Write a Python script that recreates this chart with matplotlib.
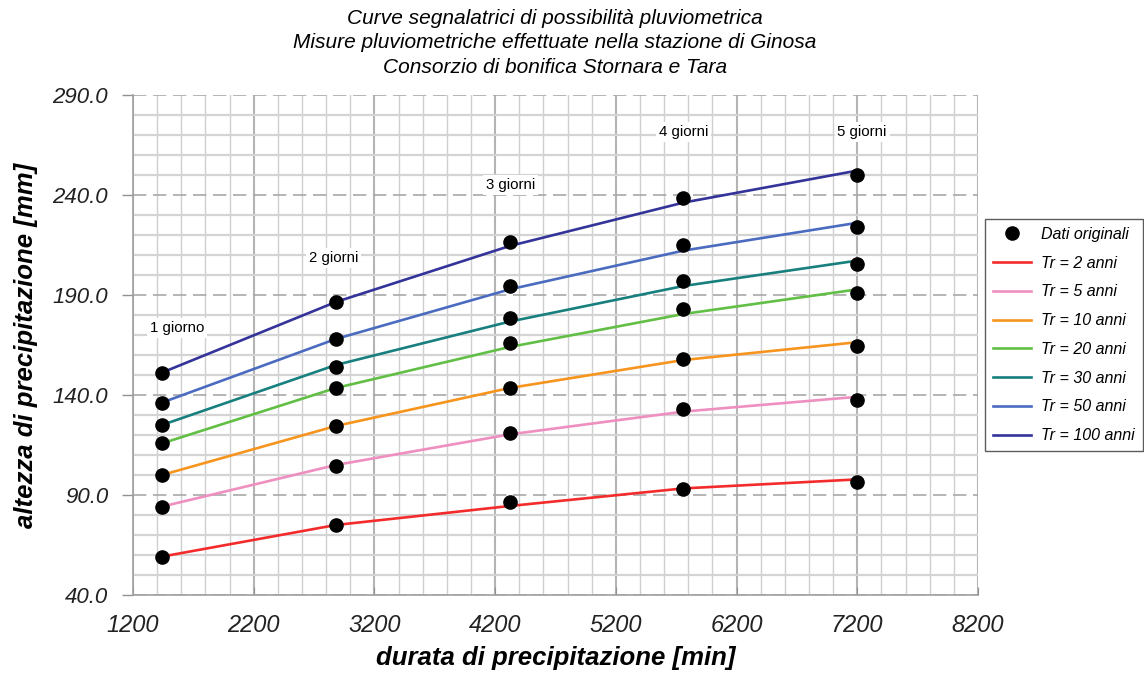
import matplotlib
matplotlib.use("Agg")
import matplotlib.pyplot as plt
from matplotlib.ticker import MultipleLocator, FormatStrFormatter
from matplotlib.lines import Line2D

plt.rcParams['font.family'] = ['Liberation Sans', 'DejaVu Sans']

# Durations [min]
durations = [1440, 2880, 4320, 5760, 7200]
day_labels = ["1 giorno", "2 giorni", "3 giorni", "4 giorni", "5 giorni"]

# Axis ticks
x_ticks = [1200, 2200, 3200, 4200, 5200, 6200, 7200, 8200]
y_ticks = [40, 90, 140, 190, 240, 290]

# Original data (dots) per return period
dati = {
    "Tr2":   [59.2, 75.0, 86.3, 93.0, 96.5],
    "Tr5":   [84.2, 104.7, 120.8, 132.8, 137.4],
    "Tr10":  [100.0, 124.5, 143.5, 158.0, 164.7],
    "Tr20":  [115.8, 143.3, 166.0, 183.0, 190.8],
    "Tr30":  [125.0, 154.2, 178.7, 197.0, 205.6],
    "Tr50":  [136.2, 168.0, 194.5, 214.8, 224.1],
    "Tr100": [151.2, 186.5, 216.3, 238.6, 250.0],
}

# Fitted curves per return period
curve_tr2   = [59.2, 75.0, 84.5, 93.3, 97.8]
curve_tr5   = [84.2, 105.0, 120.3, 131.7, 139.1]
curve_tr10  = [100.0, 124.5, 143.5, 157.5, 166.4]
curve_tr20  = [115.8, 143.5, 164.0, 180.5, 192.8]
curve_tr30  = [125.0, 155.0, 176.7, 194.5, 207.2]
curve_tr50  = [136.2, 168.0, 192.8, 212.2, 226.1]
curve_tr100 = [151.2, 186.5, 214.5, 236.2, 252.2]

curve_labels = ["Tr = 2 anni", "Tr = 5 anni", "Tr = 10 anni", "Tr = 20 anni",
                "Tr = 30 anni", "Tr = 50 anni", "Tr = 100 anni"]
curves = [curve_tr2, curve_tr5, curve_tr10, curve_tr20, curve_tr30, curve_tr50, curve_tr100]
colors = ["#F42B2B", "#EE8FC0", "#F7941D", "#62BF45", "#17807E", "#4A6BC0", "#33339A"]

# Label positions for day annotations (x, y in data units)
label_x = [1565, 2860, 4330, 5760, 7240]
label_y = [173.5, 208.5, 245.0, 271.5, 271.5]

fig = plt.figure(figsize=(11.44, 6.73), dpi=100)
ax = fig.add_axes([133/1144, 1-595/673, (978-133)/1144, 500/673])

ax.set_xlim(1200, 8200)
ax.set_ylim(40, 290)
ax.set_xticks(x_ticks)
ax.set_yticks(y_ticks)
ax.xaxis.set_minor_locator(MultipleLocator(200))
ax.yaxis.set_minor_locator(MultipleLocator(10))
ax.yaxis.set_major_formatter(FormatStrFormatter("%.1f"))

ax.grid(which='minor', axis='x', color='#cfcfcf', lw=1.0)
ax.grid(which='major', axis='x', color='#b4b4b4', lw=1.5)
ax.grid(which='minor', axis='y', color='#d4d4d4', lw=1.6)
ax.grid(which='major', axis='y', color='#a8a8a8', lw=1.2, ls=(0, (8, 4)))
ax.set_axisbelow(True)

for s in ['top', 'right']:
    ax.spines[s].set_visible(False)
for s in ['left', 'bottom']:
    ax.spines[s].set_color('#a0a0a0')
    ax.spines[s].set_linewidth(1.2)

ax.tick_params(which='minor', length=0)
ax.tick_params(axis='y', which='major', length=8, color='#909090', width=1,
               direction='out', labelsize=16, pad=10)
ax.tick_params(axis='x', which='major', direction='in', length=6, color='#909090',
               labelsize=17, pad=14)
for lab in ax.get_xticklabels() + ax.get_yticklabels():
    lab.set_fontstyle('italic')
    lab.set_color('#222222')

lines = []
for c, lab, col in zip(curves, curve_labels, colors):
    ln, = ax.plot(durations, c, color=col, lw=1.9, label=lab, zorder=3)
    lines.append(ln)

for key in dati:
    ax.plot(durations, dati[key], 'o', color='black', ms=9.5, zorder=4)

for x, y, t in zip(label_x, label_y, day_labels):
    ax.text(x, y, t, fontsize=10.8, ha='center', va='center', zorder=5,
            bbox=dict(facecolor='white', edgecolor='none', pad=2))

ax.set_xlabel("durata di precipitazione [min]", fontsize=18.5, fontweight='bold',
              fontstyle='italic', labelpad=6)
ax.set_ylabel("altezza di precipitazione [mm]", fontsize=18.5, fontweight='bold',
              fontstyle='italic', labelpad=10)

fig.text(555/1144, 1-9/673,
         "Curve segnalatrici di possibilità pluviometrica\n"
         "Misure pluviometriche effettuate nella stazione di Ginosa\n"
         "Consorzio di bonifica Stornara e Tara",
         ha='center', va='top', fontsize=15, fontstyle='italic', linespacing=1.36)

dot_handle = Line2D([], [], marker='o', ls='none', color='black', ms=9.5)
leg = fig.legend([dot_handle] + lines, ["Dati originali"] + curve_labels,
                 loc='upper left', bbox_to_anchor=(985/1144, 1-219/673),
                 prop={'style': 'italic', 'size': 11.5},
                 frameon=True, fancybox=False, edgecolor='#333333',
                 labelspacing=0.86, handlelength=2.4, handletextpad=0.6,
                 borderpad=0.5, borderaxespad=0)
leg.get_frame().set_linewidth(1.0)

fig.savefig("out.png", dpi=100)
